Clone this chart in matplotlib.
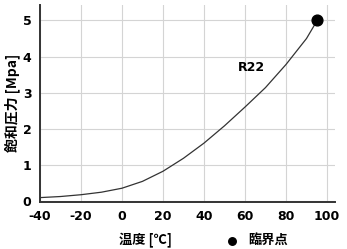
import matplotlib
matplotlib.use("Agg")
import matplotlib.pyplot as plt

plt.rcParams['font.family'] = ['Noto Sans CJK JP', 'DejaVu Sans']
plt.rcParams['axes.unicode_minus'] = False

# saturation pressure curve (deg C, MPa)
temp = [-40, -30, -20, -10, 0, 10, 20, 30, 40, 50, 60, 70, 80, 90, 95.2]
pres = [0.09, 0.12, 0.17, 0.24, 0.35, 0.54, 0.82, 1.18, 1.60, 2.08, 2.60,
        3.14, 3.78, 4.50, 5.0]
crit_t = [95.2]
crit_p = [5.0]
xticks = [-40, -20, 0, 20, 40, 60, 80, 100]
yticks = [0, 1, 2, 3, 4, 5]

fig = plt.figure(figsize=(3.47, 2.49), dpi=100)
ax = fig.add_axes([0.115, 0.189, 0.851, 0.791])

ax.plot(temp, pres, color="#333333", lw=0.9)
crit = ax.scatter(crit_t, crit_p, s=60, color="black", zorder=5, clip_on=False)
ax.text(63, 3.7, "R22", fontsize=9, fontweight="bold", family="DejaVu Sans",
        ha="center", va="center")

ax.set_xlim(-40, 104)
ax.set_ylim(-0.03, 5.43)
ax.set_xticks(xticks)
ax.set_yticks(yticks)
ax.grid(color="#d4d4d4", lw=0.8)
ax.set_axisbelow(True)
for s in ["top", "right"]:
    ax.spines[s].set_visible(False)
for s in ["left", "bottom"]:
    ax.spines[s].set_color("#333333")
    ax.spines[s].set_linewidth(1.4)
ax.tick_params(length=0, labelsize=9, pad=6)
for lab in ax.get_xticklabels() + ax.get_yticklabels():
    lab.set_fontweight("bold")
    lab.set_family("DejaVu Sans")

fig.text(0.035, 0.586, "飽和圧力 [Mpa]", rotation=90, ha="center", va="center",
         fontsize=10, fontweight="bold")
fig.text(0.42, 0.036, "温度 [℃]", ha="center", va="center",
         fontsize=9.5, fontweight="bold")
fig.legend([crit], ["臨界点"], loc="center", bbox_to_anchor=(0.73, 0.036),
           frameon=False, handletextpad=0.2, markerscale=0.7,
           prop={"size": 9.5, "weight": "bold"})

fig.savefig("out.png", dpi=100)
